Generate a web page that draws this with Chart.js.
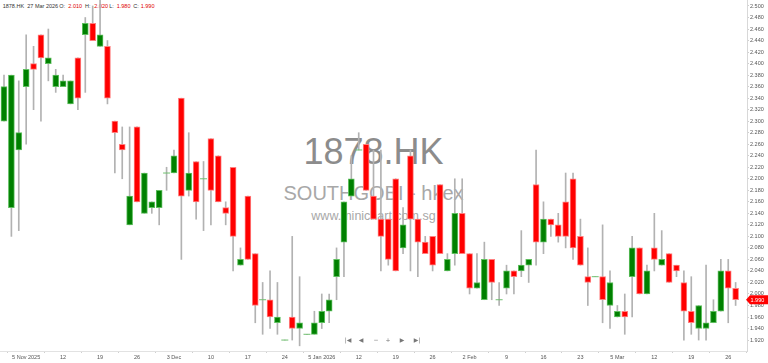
<!DOCTYPE html>
<html>
<head>
<meta charset="utf-8">
<script src="https://cdn.jsdelivr.net/npm/chart.js@4.4.1/dist/chart.umd.min.js"></script>
<style>
html,body{margin:0;padding:0;background:#fff;}
#wrap{position:relative;width:768px;height:363px;overflow:hidden;font-family:"Liberation Sans",Arial,sans-serif;}
#wm{position:absolute;left:0;top:0;width:747px;height:351px;z-index:0;}
#wm div{position:absolute;left:0;width:747px;text-align:center;white-space:nowrap;}
#hdr{position:absolute;left:0;top:0;z-index:0;font-size:5.5px;line-height:5.5px;color:#333;}
#hdr span{position:absolute;top:4.3px;white-space:nowrap;}
#hdr .v{color:#e00000;}
#c{position:absolute;left:0;top:0;z-index:1;}
#nav{position:absolute;top:337px;left:0;z-index:2;font-family:"DejaVu Sans",sans-serif;font-size:6px;line-height:6px;color:#777;}
#nav span{position:absolute;transform:translateX(-50%);white-space:nowrap;}
</style>
</head>
<body>
<div id="wrap">
  <div id="wm">
    <div style="top:134px;font-size:36px;line-height:36px;color:#8c8c8c;">1878.HK</div>
    <div style="top:183px;font-size:20px;line-height:20px;color:#a8a8a8;">SOUTHGOBI - hkex</div>
    <div style="top:210px;font-size:12.5px;line-height:12.5px;color:#a8a8a8;">www.minichart.com.sg</div>
  </div>
  <div id="hdr"></div>
  <canvas id="c" width="768" height="363" style="width:768px;height:363px;"></canvas>
  <div id="nav">
    <span style="left:348px;">|◀</span>
    <span style="left:361px;">◀</span>
    <span style="left:376px;">−</span>
    <span style="left:388px;">+</span>
    <span style="left:402px;">▶</span>
    <span style="left:417px;">▶|</span>
  </div>
</div>
<script>
const symbol = "1878.HK";
const lastDate = "27 Mar 2026";
const opens = [2.30,2.15,2.25,2.36,2.40,2.45,2.40,2.36,2.36,2.33,
  2.41,2.45,2.47,2.43,2.43,2.30,2.26,2.12,2.29,2.14,
  2.15,2.15,2.21,2.21,2.34,2.18,2.23,2.20,2.27,2.24,
  2.15,2.22,2.05,2.17,2.07,1.99,1.99,1.95,1.92,1.96,
  1.94,1.93,1.93,1.95,1.97,2.03,2.09,2.17,2.25,2.26,
  2.17,2.13,2.13,2.20,2.08,2.24,2.13,2.09,2.10,2.19,
  2.04,2.07,2.14,2.07,2.01,1.99,2.06,1.99,2.01,2.04,
  2.04,2.05,2.19,2.09,2.13,2.12,2.16,2.20,2.10,2.03,
  2.03,2.03,1.98,1.96,1.97,2.03,2.08,2.00,2.08,2.05,
  2.07,2.05,2.02,1.97,1.94,1.94,1.95,1.97,2.04,2.01];
const highs = [2.38,2.38,2.37,2.45,2.43,2.45,2.46,2.39,2.38,2.37,
  2.41,2.48,2.50,2.51,2.44,2.30,2.29,2.29,2.29,2.21,
  2.16,2.18,2.22,2.25,2.34,2.28,2.23,2.23,2.27,2.24,
  2.16,2.22,2.08,2.17,2.07,2.02,2.04,2.02,1.92,2.10,
  2.03,1.93,1.97,2.00,2.00,2.08,2.16,2.24,2.28,2.26,
  2.25,2.25,2.13,2.20,2.15,2.25,2.13,2.10,2.10,2.19,
  2.07,2.20,2.20,2.07,2.07,2.09,2.06,2.02,2.05,2.04,
  2.11,2.06,2.25,2.16,2.13,2.14,2.21,2.21,2.13,2.08,
  2.03,2.12,2.04,1.98,2.00,2.10,2.08,2.05,2.14,2.11,
  2.07,2.05,2.04,2.03,1.98,2.05,1.99,2.06,2.06,2.02];
const lows = [2.30,2.10,2.11,2.26,2.32,2.30,2.37,2.35,2.36,2.33,
  2.32,2.35,2.44,2.43,2.33,2.21,2.20,2.12,2.16,2.14,
  2.14,2.12,2.18,2.21,2.06,2.17,2.13,2.11,2.12,2.16,
  2.12,2.04,2.05,2.06,1.95,1.93,1.94,1.93,1.92,1.92,
  1.91,1.93,1.93,1.94,1.95,1.99,2.03,2.17,2.25,2.18,
  2.13,2.04,2.05,2.04,2.07,2.04,2.03,2.07,2.04,2.07,
  2.04,2.05,2.07,2.00,2.01,1.99,1.99,1.98,2.00,2.00,
  2.03,2.02,2.05,2.07,2.10,2.09,2.08,2.06,2.05,1.98,
  2.03,1.95,1.94,1.96,1.93,1.96,2.00,2.00,2.04,2.05,
  2.02,2.03,1.92,1.93,1.92,1.92,1.95,1.97,1.95,1.98];
const closes = [2.36,2.38,2.28,2.39,2.39,2.41,2.41,2.38,2.37,2.37,
  2.34,2.47,2.44,2.45,2.34,2.28,2.25,2.17,2.16,2.21,
  2.16,2.18,2.21,2.24,2.17,2.21,2.16,2.20,2.18,2.16,
  2.14,2.10,2.06,2.06,1.98,1.99,1.96,1.96,1.92,1.94,
  1.95,1.93,1.95,1.97,1.99,2.06,2.16,2.20,2.25,2.18,
  2.13,2.10,2.06,2.04,2.12,2.13,2.09,2.07,2.05,2.07,
  2.06,2.14,2.07,2.01,2.02,2.06,2.02,1.99,2.04,2.03,
  2.05,2.06,2.09,2.13,2.12,2.10,2.10,2.08,2.05,2.02,
  2.03,1.99,2.02,1.97,1.96,2.08,2.00,2.04,2.06,2.06,
  2.02,2.04,1.97,1.95,1.98,1.95,1.97,2.04,2.01,1.99];
const xTickIndex = [3,8,13,18,23,28,33,38,43,48,53,58,63,68,73,78,83,88,93,98];
const xTickLabels = ['5 Nov 2025','12','19','26','3 Dec','10','17','24','5 Jan 2026','12','19','26','2 Feb','9','16','23','5 Mar','12','19','26'];
const yTickMin = 1.92, yTickMax = 2.50, yTickStep = 0.02;

const FONT = '"Liberation Sans", Arial, sans-serif';
const n = closes.length;
const last = n - 1;

// header
(function(){
  const hdr = document.getElementById('hdr');
  const items = [
    [2.7, symbol, ''], [27.3, lastDate, ''],
    [59.3, 'O:', ''], [68.3, opens[last].toFixed(3), 'v'],
    [85, 'H:', ''], [94.3, highs[last].toFixed(3), 'v'],
    [109.3, 'L:', ''], [116.7, lows[last].toFixed(3), 'v'],
    [133.3, 'C:', ''], [140.7, closes[last].toFixed(3), 'v']
  ];
  items.forEach(([x, t, c]) => {
    const s = document.createElement('span');
    s.style.left = x + 'px';
    s.textContent = t;
    if (c) s.className = c;
    hdr.appendChild(s);
  });
})();

const UP = '#008000', UP_B = '#5fbf5f', DN = '#ff0000', DN_B = '#ff8080';
const wickData = [], bodyData = [], bodyBg = [], bodyBorder = [], dojiData = [];
for (let i = 0; i < n; i++) {
  wickData.push({x: i, y: [lows[i], highs[i]]});
  if (opens[i] === closes[i]) {
    dojiData.push({x: i, y: closes[i]});
  } else {
    bodyData.push({x: i, y: [opens[i], closes[i]]});
    const up = closes[i] > opens[i];
    bodyBg.push(up ? UP : DN);
    bodyBorder.push(up ? UP_B : DN_B);
  }
}

const priceTag = {
  id: 'priceTag',
  afterDraw(chart) {
    const ctx = chart.ctx;
    const y = chart.scales.y.getPixelForValue(closes[last]);
    const x0 = chart.chartArea.right;
    const col = closes[last] >= opens[last] ? UP : DN;
    ctx.save();
    ctx.fillStyle = col;
    ctx.beginPath();
    ctx.moveTo(x0 - 1, y);
    ctx.lineTo(x0 + 3, y - 4.5);
    ctx.lineTo(768, y - 4.5);
    ctx.lineTo(768, y + 4.5);
    ctx.lineTo(x0 + 3, y + 4.5);
    ctx.closePath();
    ctx.fill();
    ctx.fillStyle = '#fff';
    ctx.font = '5.5px ' + FONT;
    ctx.textBaseline = 'middle';
    ctx.textAlign = 'left';
    ctx.fillText(closes[last].toFixed(3), x0 + 3.5, y + 0.3);
    ctx.restore();
  }
};

new Chart(document.getElementById('c'), {
  data: {
    datasets: [
      {type: 'line', data: dojiData, showLine: false, pointStyle: 'line', pointRadius: 3.5,
       pointBorderColor: '#6fbf6f', pointBorderWidth: 1, order: 0},
      {type: 'bar', data: bodyData, backgroundColor: bodyBg, borderColor: bodyBorder,
       borderWidth: 1, borderSkipped: false, barThickness: 6, grouped: false, order: 1},
      {type: 'bar', data: wickData, backgroundColor: '#b2b2b2', borderWidth: 0,
       barThickness: 1, grouped: false, order: 2}
    ]
  },
  options: {
    responsive: false,
    animation: false,
    events: [],
    layout: {padding: 0, autoPadding: false},
    plugins: {legend: {display: false}, tooltip: {enabled: false}},
    scales: {
      x: {
        type: 'linear', position: 'bottom', min: -0.541, max: 100.54, offset: false,
        grid: {display: true, drawOnChartArea: false, drawTicks: true, tickLength: 2, color: '#cfcfcf'},
        border: {display: true, color: '#e2e2e2'},
        afterBuildTicks: s => { s.ticks = xTickIndex.map(v => ({value: v})); },
        afterFit: s => { s.height = 12; s.paddingLeft = 0; s.paddingRight = 0; },
        ticks: {autoSkip: false, maxRotation: 0, padding: 1, color: '#555',
          font: {size: 5.5, family: FONT},
          callback: (v, idx) => xTickLabels[idx]}
      },
      y: {
        type: 'linear', position: 'right', min: 1.9010, max: 2.5104,
        grid: {display: true, drawOnChartArea: false, drawTicks: true, tickLength: 2, color: '#cfcfcf'},
        border: {display: true, color: '#d8d8d8'},
        afterBuildTicks: s => {
          const t = [];
          for (let v = yTickMin; v <= yTickMax + 1e-9; v += yTickStep) t.push({value: Math.round(v * 1000) / 1000});
          s.ticks = t;
        },
        afterFit: s => { s.width = 21; s.paddingTop = 0; s.paddingBottom = 0; },
        ticks: {autoSkip: false, padding: 1, color: '#555',
          font: {size: 5.5, family: FONT},
          callback: v => Number(v).toFixed(3)}
      }
    }
  },
  plugins: [priceTag]
});
</script>
</body>
</html>
